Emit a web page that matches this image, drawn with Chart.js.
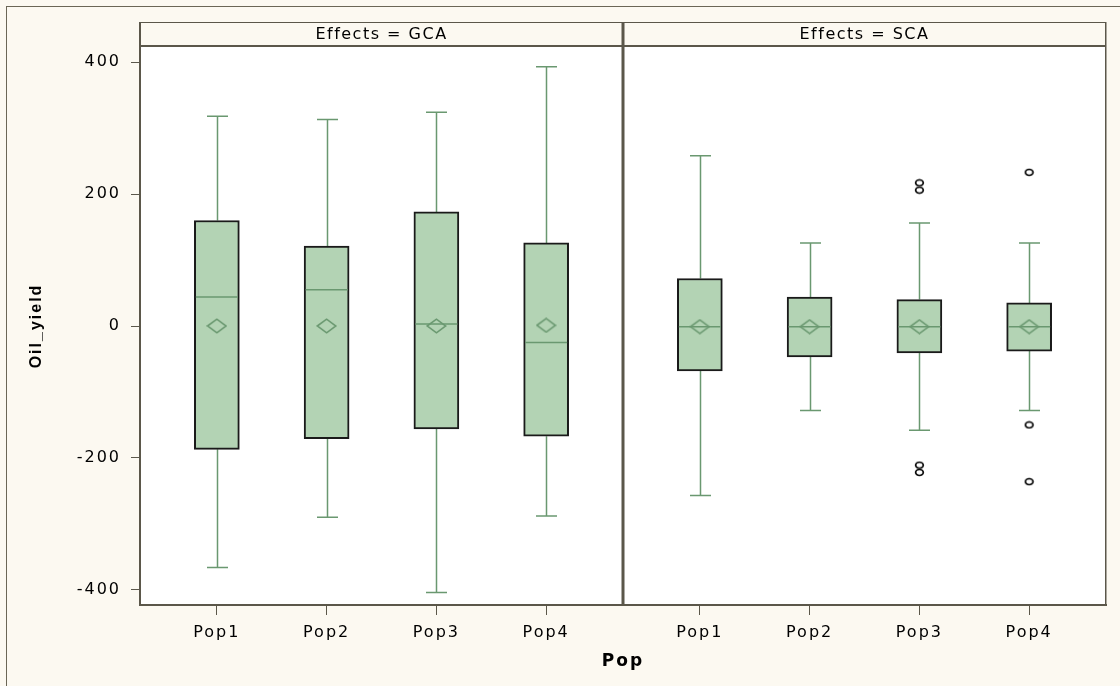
<!DOCTYPE html>
<html>
<head>
<meta charset="utf-8">
<script src="https://cdn.jsdelivr.net/npm/chart.js@4"></script>
<style>
  body { margin: 0; background: #fcf9f1; }
  canvas { display: block; }
</style>
</head>
<body>
<canvas id="boxChart" width="1120" height="686"></canvas>
<script>
const categories = ['Pop1', 'Pop2', 'Pop3', 'Pop4'];
const panels = ['GCA', 'SCA'];
const yTicks = [-400, -200, 0, 200, 400];

// Effects = GCA
const gcaMin = [-366, -290, -404, -288];
const gcaQ1 = [-187, -171, -156, -167];
const gcaMedian = [44, 55, 3, -25];
const gcaQ3 = [160, 121, 173, 126];
const gcaMax = [318, 313, 324, 393];
const gcaMean = [0, 0, 0, 1];

// Effects = SCA
const scaMin = [-257, -128, -158, -128];
const scaQ1 = [-68, -47, -41, -38];
const scaMedian = [-1, -1, -1, -1];
const scaQ3 = [72, 44, 40, 35];
const scaMax = [258, 126, 156, 126];
const scaMean = [-1, -1, -1, -1];
const scaOutliers = [[], [], [217, 206, -211, -222], [233, -150, -236]];

// layout of the two panels on one linear x axis
const panelSpan = 4.4;
const catOffset = 0.7;
const xPos = (p, i) => p * panelSpan + catOffset + i;

const lineCol = '#5b574a';
const whiskerCol = '#6a9870';
const boxFill = '#b3d3b4';
const cream = '#fcf9f1';

// build the boxes from the arrays
const stats = [];
[[gcaMin, gcaQ1, gcaMedian, gcaQ3, gcaMax, gcaMean], [scaMin, scaQ1, scaMedian, scaQ3, scaMax, scaMean]]
  .forEach((arr, p) => {
    categories.forEach((c, i) => {
      stats.push({ x: xPos(p, i), min: arr[0][i], q1: arr[1][i], med: arr[2][i], q3: arr[3][i], max: arr[4][i], mean: arr[5][i] });
    });
  });

const outlierPts = [];
scaOutliers.forEach((vals, i) => vals.forEach(v => outlierPts.push({ x: xPos(1, i), y: v })));

// marker images (SAS draws them a bit wide)
function makeDiamond() {
  const c = document.createElement('canvas');
  c.width = 21; c.height = 16;
  const g = c.getContext('2d');
  g.strokeStyle = whiskerCol;
  g.lineWidth = 1.6;
  g.beginPath();
  g.moveTo(1.2, 8); g.lineTo(10.5, 1.2); g.lineTo(19.8, 8); g.lineTo(10.5, 14.8);
  g.closePath();
  g.stroke();
  return c;
}
function makeCircle() {
  const c = document.createElement('canvas');
  c.width = 11; c.height = 9;
  const g = c.getContext('2d');
  g.strokeStyle = '#000';
  g.lineWidth = 1.7;
  g.beginPath();
  g.ellipse(5.5, 4.5, 3.8, 3, 0, 0, Math.PI * 2);
  g.stroke();
  return c;
}

const backdrop = {
  id: 'backdrop',
  beforeDraw(chart) {
    const { ctx, chartArea: a } = chart;
    ctx.save();
    ctx.fillStyle = cream;
    ctx.fillRect(0, 0, chart.width, chart.height);
    ctx.strokeStyle = '#6b6656';
    ctx.lineWidth = 1;
    ctx.strokeRect(6.5, 6.5, chart.width, chart.height);
    ctx.fillStyle = '#fff';
    ctx.fillRect(a.left, a.top, a.right - a.left, a.bottom - a.top);
    ctx.restore();
    ctx.letterSpacing = '2px';
  }
};

const whiskers = {
  id: 'whiskers',
  beforeDatasetsDraw(chart) {
    const { ctx, scales: { x, y } } = chart;
    ctx.save();
    ctx.strokeStyle = whiskerCol;
    ctx.lineWidth = 1.5;
    stats.forEach(s => {
      const px = Math.round(x.getPixelForValue(s.x)) + 0.5;
      ctx.beginPath();
      ctx.moveTo(px, y.getPixelForValue(s.q3)); ctx.lineTo(px, y.getPixelForValue(s.max));
      ctx.moveTo(px, y.getPixelForValue(s.q1)); ctx.lineTo(px, y.getPixelForValue(s.min));
      ctx.moveTo(px - 10.5, y.getPixelForValue(s.max)); ctx.lineTo(px + 10.5, y.getPixelForValue(s.max));
      ctx.moveTo(px - 10.5, y.getPixelForValue(s.min)); ctx.lineTo(px + 10.5, y.getPixelForValue(s.min));
      ctx.stroke();
    });
    ctx.restore();
  },
  afterDatasetsDraw(chart) {
    const { ctx, scales: { x, y } } = chart;
    ctx.save();
    ctx.strokeStyle = whiskerCol;
    ctx.lineWidth = 1.5;
    stats.forEach(s => {
      const px = x.getPixelForValue(s.x);
      const py = y.getPixelForValue(s.med);
      ctx.beginPath();
      ctx.moveTo(px - 21, py); ctx.lineTo(px + 21, py);
      ctx.stroke();
    });
    ctx.restore();
  }
};

const panelFrame = {
  id: 'panelFrame',
  afterDraw(chart) {
    const { ctx, chartArea: a, scales: { x } } = chart;
    const top = 22;
    ctx.save();
    ctx.fillStyle = cream;
    ctx.fillRect(a.left, top, a.right - a.left, a.top - top);
    ctx.fillStyle = lineCol;
    ctx.fillRect(a.left, top, a.right - a.left, 1);
    ctx.fillRect(a.left, a.top - 2, a.right - a.left, 2);
    ctx.fillRect(a.left - 1, top, 2, a.top - top);
    ctx.fillRect(a.right - 1, top, 1.5, a.bottom - top);
    const dx = x.getPixelForValue(panelSpan);
    ctx.fillRect(dx - 1.5, top, 3, a.bottom - top);
    ctx.font = '16px "DejaVu Sans"';
    ctx.letterSpacing = '1.5px';
    ctx.fillStyle = '#000';
    ctx.textAlign = 'center';
    ctx.textBaseline = 'middle';
    panels.forEach((name, p) => {
      const l = p === 0 ? a.left : dx;
      const r = p === 0 ? dx : a.right;
      ctx.fillText('Effects = ' + name, (l + r) / 2, (top + a.top) / 2);
    });
    ctx.restore();
  }
};

Chart.defaults.font.family = '"DejaVu Sans"';
Chart.defaults.color = '#000';

new Chart(document.getElementById('boxChart'), {
  type: 'bar',
  data: {
    datasets: [
      {
        type: 'scatter',
        label: 'Mean',
        data: stats.map(s => ({ x: s.x, y: s.mean })),
        pointStyle: makeDiamond(),
        order: 1
      },
      {
        type: 'scatter',
        label: 'Outliers',
        data: outlierPts,
        pointStyle: makeCircle(),
        order: 2
      },
      {
        type: 'bar',
        label: 'Box',
        data: stats.map(s => ({ x: s.x, y: [s.q1, s.q3] })),
        backgroundColor: boxFill,
        borderColor: '#1a1a1a',
        borderWidth: 2,
        borderSkipped: false,
        barThickness: 45,
        order: 3
      }
    ]
  },
  options: {
    responsive: false,
    animation: false,
    devicePixelRatio: 1,
    layout: { padding: { top: 47, right: 14, left: 0, bottom: 0 } },
    plugins: {
      legend: { display: false },
      tooltip: { enabled: false }
    },
    scales: {
      x: {
        type: 'linear',
        min: 0,
        max: panelSpan * 2,
        offset: false,
        grid: { drawOnChartArea: false, offset: false, tickLength: 10, color: lineCol, lineWidth: 1 },
        border: { color: lineCol, width: 2 },
        afterBuildTicks(scale) {
          scale.ticks = [];
          panels.forEach((p, pi) => categories.forEach((c, i) => scale.ticks.push({ value: xPos(pi, i) })));
        },
        afterFit(scale) { scale.height = 81; },
        ticks: {
          padding: 8,
          font: { size: 16 },
          maxRotation: 0,
          autoSkip: false,
          callback: (v, i) => categories[i % categories.length]
        },
        title: {
          display: true,
          text: 'Pop',
          font: { size: 17, weight: 'bold' },
          color: '#000',
          padding: { top: 0, bottom: 14 }
        }
      },
      y: {
        min: -423,
        max: 423,
        grid: { drawOnChartArea: false, tickLength: 9, color: lineCol, lineWidth: 1 },
        border: { color: lineCol, width: 2 },
        afterBuildTicks(scale) { scale.ticks = yTicks.map(v => ({ value: v })); },
        afterFit(scale) { scale.width = 140; },
        ticks: { padding: 10, font: { size: 16 } },
        title: {
          display: true,
          text: 'Oil_yield',
          font: { family: '"Liberation Sans"', size: 16, weight: 'bold' },
          color: '#000',
          padding: { top: 27, bottom: 0 }
        }
      }
    }
  },
  plugins: [backdrop, whiskers, panelFrame]
});
</script>
</body>
</html>
